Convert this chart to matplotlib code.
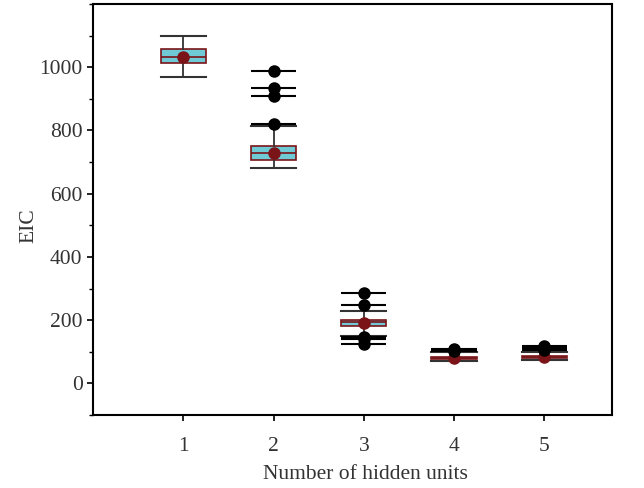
import numpy as np
import matplotlib.pyplot as plt
from matplotlib.ticker import MultipleLocator

units = [1, 2, 3, 4, 5]
whislo = [968, 680, 149, 72, 73]
q1 = [1013, 706, 183, 76, 79]
med = [1032, 728, 193, 80, 83]
q3 = [1057, 750, 202, 84, 88]
whishi = [1098, 813, 229, 98, 100]
means = [1032, 728, 190, 80, 84]
outliers = [[], [820, 908, 934, 987], [123, 141, 146, 249, 285],
            [102, 106, 110], [106, 112, 117]]

box_fill = '#6fcad6'
box_edge = '#7a1418'
txt = '#333333'
serif = 'Liberation Serif'

stats = []
for i in range(len(units)):
    stats.append(dict(whislo=whislo[i], q1=q1[i], med=med[i], q3=q3[i],
                      whishi=whishi[i], mean=means[i], fliers=[]))

fig = plt.figure(figsize=(6.44, 4.88), dpi=100)
ax = fig.add_axes([0.1444, 0.1496, 0.8059, 0.8422])

w = 0.5
ax.bxp(stats, positions=units, widths=w, showmeans=True, patch_artist=True,
       boxprops=dict(facecolor=box_fill, edgecolor=box_edge, linewidth=1.2),
       medianprops=dict(color=box_edge, linewidth=1.2),
       whiskerprops=dict(color=txt, linewidth=1.3),
       capprops=dict(color=txt, linewidth=1.5),
       capwidths=w,
       meanprops=dict(marker='o', markerfacecolor=box_edge, markeredgecolor=box_edge,
                      markersize=8),
       showfliers=False)

# outliers: dot with a short bar through it
for x, vals in zip(units, outliers):
    if vals:
        ax.hlines(vals, x - w / 2, x + w / 2, color='black', linewidth=1.5, zorder=3)
        ax.plot([x] * len(vals), vals, 'o', color='black', markersize=8, zorder=4)

ax.set_xlim(0, 5.75)
ax.set_ylim(-100, 1200)
ax.set_xticks(units)
ax.yaxis.set_major_locator(MultipleLocator(200))
ax.yaxis.set_minor_locator(MultipleLocator(100))
ax.set_yticks([0, 200, 400, 600, 800, 1000])
ax.tick_params(axis='both', which='major', length=4, width=1.2, labelsize=15.5,
               labelcolor=txt, direction='out')
ax.tick_params(axis='x', pad=12)
ax.tick_params(axis='y', which='minor', length=3, width=1.0)
for s in ax.spines.values():
    s.set_linewidth(1.5)

ax.set_xlabel('Number of hidden units', fontsize=15.5, color=txt, family=serif)
ax.set_ylabel('EIC', fontsize=15.5, color=txt, family=serif)
ax.xaxis.set_label_coords(0.525, -0.122)
ax.yaxis.set_label_coords(-0.106, 0.46)
for lab in ax.get_xticklabels() + ax.get_yticklabels():
    lab.set_family(serif)

fig.savefig('out.png', dpi=100)
